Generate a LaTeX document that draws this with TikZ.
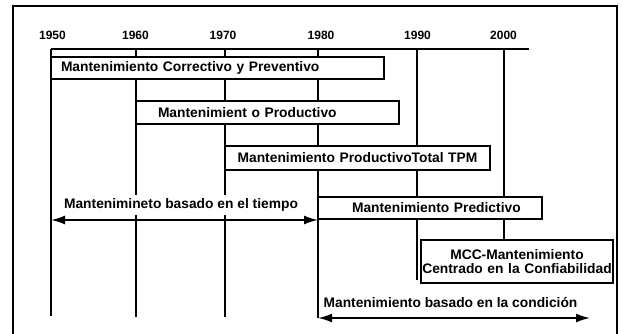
\documentclass[tikz,border=0pt]{standalone}
\usepackage{fontspec}
\setmainfont{Liberation Sans}
\usetikzlibrary{arrows.meta}
\begin{document}
\begin{tikzpicture}[x=1pt,y=-1pt,
  vline/.style={line width=1.8pt},
  tbox/.style={draw, line width=1.6pt, fill=white, inner xsep=0pt, inner ysep=0pt, align=left,
    font=\fontsize{13.8}{14.5}\selectfont\bfseries},
  year/.style={font=\fontsize{12}{14}\selectfont\bfseries, inner sep=0pt},
  lbl/.style={fill=white, inner xsep=3pt, inner ysep=4pt, font=\fontsize{13.8}{15}\selectfont\bfseries},
  span/.style={line width=1.8pt, {Latex[length=14pt,width=9pt]}-{Latex[length=14pt,width=9pt]}}
]
\useasboundingbox (0,0) rectangle (623,334);
\fill[white] (0,0) rectangle (623,334);
\draw[line width=1.8pt] (13,6) rectangle (617,345);

% year labels
\node[year] (y50) at (52.5,35) {1950};
\node[year] (y60) at (135.5,35) {1960};
\node[year] (y70) at (223,35) {1970};
\node[year] (y80) at (321,35) {1980};
\node[year] (y90) at (417.5,35) {1990};
\node[year] (y00) at (503.5,35) {2000};

% axis coordinates
\coordinate (t50) at (51,49);
\coordinate (t60) at (136,49);
\coordinate (t70) at (225,49);
\coordinate (t80) at (318,49);
\coordinate (t90) at (417,49);
\coordinate (t00) at (504,49);
\coordinate (tend) at (529,49);
\coordinate (b50) at (51,316);
\coordinate (b60) at (136,317);
\coordinate (b70) at (225,317);
\coordinate (b80) at (318,318);
\coordinate (b90) at (417,280);

% boxes (placed first as nodes for reference, drawn later on top)
\path (217.5,68) coordinate (c1) (267.5,112.5) coordinate (c2) (357.5,158) coordinate (c3)
      (430,208) coordinate (c4) (517,261.5) coordinate (c5);

% axis and vertical lines
\draw[vline] (t50) -- (tend);
\draw[vline] (t50) -- (b50);
\draw[vline] (t60) -- (b60);
\draw[vline] (t70) -- (b70);
\draw[vline] (t80) -- (b80);
\draw[vline] (t90) -- (b90);
\draw[vline] (t00) -- (t00 |- 240,240);

% boxes
\node[tbox, text width=333pt, minimum height=22pt] (mcp) at (c1) {\hspace*{10pt}Mantenimiento Correctivo y Preventivo};
\node[tbox, text width=263pt, minimum height=23pt] (mp) at (c2) {\hspace*{22pt}Mantenimient o Productivo};
\node[tbox, text width=265pt, minimum height=24pt, align=center] (tpm) at (c3) {Mantenimiento ProductivoTotal TPM};
\node[tbox, text width=224pt, minimum height=22pt] (pred) at (c4) {\hspace*{34pt}Mantenimiento Predictivo};
\node[tbox, text width=192pt, minimum height=43pt, align=center] (mcc) at (c5) {MCC-Mantenimiento\\Centrado en la Confiabilidad};

% span labels
\node[lbl] (ltime) at (181,205) {Mantenimineto basado en el tiempo};
\node[lbl] (lcond) at (450.5,303) {Mantenimiento basado en la condición};

% span arrows
\coordinate (ta) at (51,220);
\coordinate (tb) at (318,220);
\coordinate (ca) at (318,318);
\coordinate (cb) at (590,318);
\draw[span] (ta) -- (tb);
\draw[span] (ca) -- (cb);
\end{tikzpicture}
\end{document}
